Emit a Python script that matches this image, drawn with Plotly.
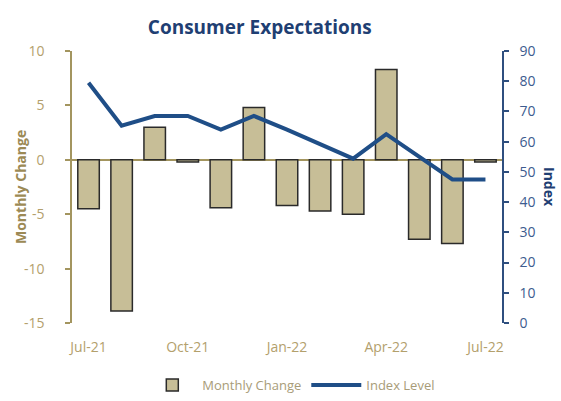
import plotly.graph_objects as go

months = ["Jul-21", "Aug-21", "Sep-21", "Oct-21", "Nov-21", "Dec-21", "Jan-22",
          "Feb-22", "Mar-22", "Apr-22", "May-22", "Jun-22", "Jul-22"]
monthly_change = [-4.5, -13.9, 3.0, -0.2, -4.4, 4.8, -4.2, -4.7, -5.0, 8.3, -7.3, -7.7, -0.2]
index_level = [79.5, 65.3, 68.5, 68.5, 64.0, 68.5, 64.0, 59.3, 54.4, 62.5, 55.0, 47.5, 47.5]
tick_labels = ["Jul-21", "Oct-21", "Jan-22", "Apr-22", "Jul-22"]
left_ticks = [-15, -10, -5, 0, 5, 10]
left_tick_text = ["-15", "-10", "-5", "0", "5", "10"]
right_ticks = [0, 10, 20, 30, 40, 50, 60, 70, 80, 90]

TAN = "#B3A06C"
TAN_LINE = "#A3955F"
NAVY_LINE = "#1F4E87"
FONT = "Open Sans"

fig = go.Figure()
fig.add_trace(go.Bar(
    x=months, y=monthly_change, name="Monthly Change",
    marker=dict(color="#C7BE97", line=dict(color="#2A2A2A", width=1.5)),
    yaxis="y",
))
fig.add_trace(go.Scatter(
    x=months, y=index_level, name="Index Level", mode="lines",
    line=dict(color=NAVY_LINE, width=4),
    yaxis="y2",
))

fig.update_layout(
    width=561, height=401,
    margin=dict(l=72, r=59, t=51, b=78, autoexpand=False),
    paper_bgcolor="white", plot_bgcolor="white",
    font=dict(family=FONT, size=13, color=TAN),
    title=dict(text="<b>Consumer Expectations</b>", x=0.463, xanchor="center",
               y=0.932, yanchor="middle",
               font=dict(family=FONT, size=19, color="#1F3F73")),
    bargap=0.35,
    showlegend=True,
    legend=dict(orientation="h", x=0.51, xanchor="center", y=-0.228, yanchor="middle",
                xref="paper", font=dict(family=FONT, size=13, color="#A89C78"),
                itemwidth=50, tracegroupgap=0),
    xaxis=dict(
        type="category", range=[-0.5, 12.5],
        tickmode="array", tickvals=tick_labels, ticktext=tick_labels,
        showline=False, showgrid=False, zeroline=False, ticks="",
        tickfont=dict(color=TAN, size=14), ticklabelstandoff=14,
    ),
    yaxis=dict(
        range=[-15, 10], tickmode="array", tickvals=left_ticks, ticktext=left_tick_text,
        showgrid=False, showline=True, linecolor=TAN_LINE, linewidth=1.5,
        ticks="outside", ticklen=5, tickcolor=TAN_LINE, tickwidth=1.5,
        zeroline=True, zerolinecolor=TAN_LINE, zerolinewidth=1.5,
        tickfont=dict(color=TAN, size=14), ticklabelstandoff=18,
    ),
    yaxis2=dict(
        range=[0, 90], tickmode="array", tickvals=right_ticks, overlaying="y", side="right",
        showgrid=False, showline=True, linecolor="#2F4F7F", linewidth=1.5,
        ticks="outside", ticklen=5, tickcolor="#2F4F7F", tickwidth=1.5,
        zeroline=False,
        tickfont=dict(color="#3D5C8F", size=14), ticklabelstandoff=8,
    ),
    annotations=[
        dict(text="<b>Index</b>", xref="paper", yref="paper", x=1.0, xshift=48, y=0.5,
             xanchor="center", yanchor="middle",
             showarrow=False, textangle=90, font=dict(family=FONT, size=14, color="#1F3F73")),
        dict(text="<b>Monthly Change</b>", xref="paper", yref="paper", x=0.0, xshift=-52, y=0.5,
             xanchor="center", yanchor="middle",
             showarrow=False, textangle=-90, font=dict(family=FONT, size=14, color="#9C8A55")),
    ],
)

fig.write_html("out.html")
